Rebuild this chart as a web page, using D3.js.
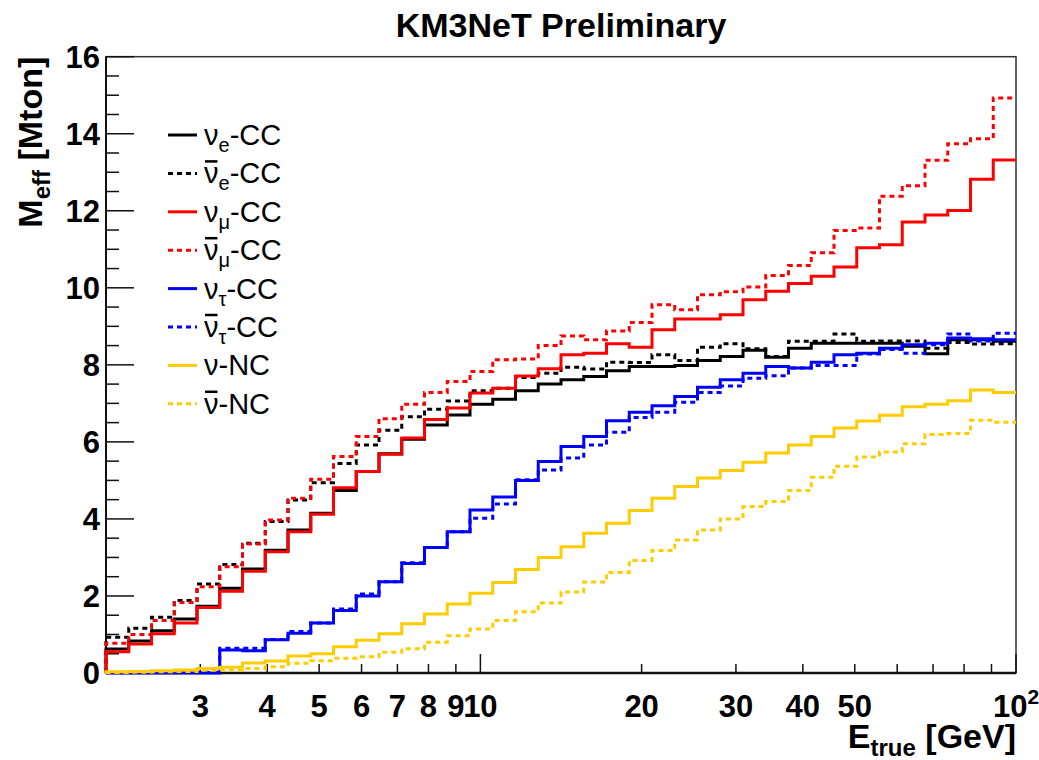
<!DOCTYPE html>
<html>
<head>
<meta charset="utf-8">
<script src="https://cdn.jsdelivr.net/npm/d3@7"></script>
<style>
  body { margin: 0; background: #fff; }
  text { font-family: "Liberation Sans", Arial, Helvetica, sans-serif; }
</style>
</head>
<body>
<div id="chart"></div>
<script>
// Histogram binning: 40 log bins from 2 to 100 GeV
const eMin = 2, eMax = 100, nBins = 40;

// Effective mass per bin [Mton]
const nueCC = [0.62, 0.83, 1.10, 1.40, 1.73, 2.20, 2.70, 3.19, 3.71, 4.15, 4.74, 5.23, 5.69, 6.07, 6.44, 6.70, 6.98, 7.11, 7.33, 7.50,
  7.61, 7.70, 7.85, 7.96, 7.96, 7.98, 8.11, 8.22, 8.38, 8.20, 8.43, 8.56, 8.56, 8.56, 8.56, 8.48, 8.29, 8.65, 8.65, 8.61];
const anueCC = [0.93, 1.16, 1.45, 1.88, 2.31, 2.82, 3.37, 3.93, 4.49, 4.94, 5.44, 5.92, 6.30, 6.65, 6.85, 7.06, 7.33, 7.39, 7.67, 7.78,
  7.94, 7.89, 8.07, 8.06, 8.26, 8.11, 8.46, 8.55, 8.42, 8.22, 8.61, 8.61, 8.80, 8.61, 8.62, 8.62, 8.43, 8.58, 8.54, 8.55];
const numuCC = [0.55, 0.75, 1.02, 1.30, 1.70, 2.12, 2.64, 3.15, 3.67, 4.12, 4.81, 5.23, 5.68, 6.10, 6.58, 6.88, 7.27, 7.39, 7.71, 7.90,
  8.26, 8.30, 8.55, 8.46, 8.91, 9.19, 9.19, 9.30, 9.69, 9.91, 10.11, 10.30, 10.54, 11.04, 11.12, 11.71, 11.89, 12.01, 12.82, 13.32];
const anumuCC = [0.77, 1.00, 1.36, 1.83, 2.24, 2.76, 3.35, 3.97, 4.54, 5.03, 5.62, 6.14, 6.60, 6.98, 7.28, 7.57, 7.83, 8.13, 8.15, 8.50,
  8.75, 8.65, 8.88, 9.10, 9.56, 9.43, 9.82, 9.90, 10.02, 10.32, 10.58, 10.91, 11.49, 11.55, 12.38, 12.65, 13.31, 13.74, 13.87, 14.93];
const nutauCC = [0.0, 0.0, 0.0, 0.0, 0.0, 0.60, 0.58, 0.86, 1.03, 1.30, 1.62, 2.00, 2.37, 2.84, 3.26, 3.67, 4.23, 4.57, 5.00, 5.49,
  5.88, 6.14, 6.55, 6.77, 6.94, 7.18, 7.42, 7.61, 7.78, 7.96, 7.92, 8.07, 8.26, 8.30, 8.43, 8.52, 8.56, 8.70, 8.68, 8.65];
const anutauCC = [0.01, 0.01, 0.02, 0.02, 0.02, 0.64, 0.64, 0.87, 1.08, 1.30, 1.66, 2.05, 2.37, 2.86, 3.26, 3.67, 4.02, 4.39, 5.02, 5.27,
  5.58, 5.92, 6.25, 6.63, 6.77, 7.03, 7.28, 7.45, 7.65, 7.72, 7.92, 7.98, 7.98, 8.28, 8.40, 8.30, 8.52, 8.80, 8.62, 8.82];
const nuNC = [0.03, 0.04, 0.06, 0.08, 0.12, 0.15, 0.26, 0.31, 0.44, 0.50, 0.68, 0.85, 1.02, 1.28, 1.53, 1.79, 2.07, 2.35, 2.69, 3.00,
  3.28, 3.63, 3.89, 4.22, 4.54, 4.84, 5.06, 5.26, 5.47, 5.71, 5.92, 6.14, 6.36, 6.54, 6.69, 6.91, 6.98, 7.07, 7.35, 7.28];
const anuNC = [0.01, 0.02, 0.03, 0.04, 0.07, 0.08, 0.12, 0.16, 0.25, 0.32, 0.38, 0.42, 0.54, 0.63, 0.80, 0.97, 1.14, 1.36, 1.59, 1.82,
  2.10, 2.36, 2.61, 2.92, 3.18, 3.45, 3.71, 4.00, 4.32, 4.45, 4.74, 5.08, 5.37, 5.61, 5.74, 5.95, 6.19, 6.22, 6.56, 6.51];

// x tick labels (log axis)
const xLabelTicks = [3, 4, 5, 6, 7, 8, 9, 10, 20, 30, 40, 50];
const xMinorTicks = [3, 4, 5, 6, 7, 8, 9, 20, 30, 40, 50, 60, 70, 80, 90];
const xMajorTicks = [10, 100];
const yLabelTicks = [0, 2, 4, 6, 8, 10, 12, 14, 16];

const series = [
  { values: nueCC,    color: "#000000", dashed: false, sub: "e", rest: "-CC", anti: false },
  { values: anueCC,   color: "#000000", dashed: true,  sub: "e", rest: "-CC", anti: true },
  { values: numuCC,   color: "#ff0000", dashed: false, sub: "μ", rest: "-CC", anti: false },
  { values: anumuCC,  color: "#ff0000", dashed: true,  sub: "μ", rest: "-CC", anti: true },
  { values: nutauCC,  color: "#0000ff", dashed: false, sub: "τ", rest: "-CC", anti: false },
  { values: anutauCC, color: "#0000ff", dashed: true,  sub: "τ", rest: "-CC", anti: true },
  { values: nuNC,     color: "#ffcc00", dashed: false, sub: "",  rest: "-NC", anti: false },
  { values: anuNC,    color: "#ffcc00", dashed: true,  sub: "",  rest: "-NC", anti: true }
];

const width = 1039, height = 760;
const padL = 106, padR = 1016, padT = 56.7, padB = 673;

const svg = d3.select("#chart").append("svg")
  .attr("width", width)
  .attr("height", height);

const x = d3.scaleLog().domain([eMin, eMax]).range([padL, padR]);
const y = d3.scaleLinear().domain([0, 16]).range([padB, padT]);

// bin edges of the histograms
const edges = d3.range(nBins + 1).map(i => eMin * Math.pow(eMax / eMin, i / nBins));

// Title
svg.append("text")
  .attr("x", 561).attr("y", 37)
  .attr("text-anchor", "middle")
  .style("font-size", "34px").style("font-weight", "bold")
  .text("KM3NeT Preliminary");

// Frame
svg.append("rect")
  .attr("x", padL).attr("y", padT)
  .attr("width", padR - padL).attr("height", padB - padT)
  .attr("fill", "none").attr("stroke", "#333").attr("stroke-width", 1.5);

// y axis ticks (inside)
const yAxis = svg.append("g");
const yMinor = d3.range(0, 16.01, 0.5);
yAxis.selectAll("line")
  .data(yMinor)
  .join("line")
  .attr("x1", padL)
  .attr("x2", d => d % 2 === 0 ? padL + 28 : padL + 13)
  .attr("y1", d => y(d)).attr("y2", d => y(d))
  .attr("stroke", "#111").attr("stroke-width", 1.5);
yAxis.append("line")
  .attr("x1", padL).attr("x2", padL).attr("y1", padT).attr("y2", padB)
  .attr("stroke", "#111").attr("stroke-width", 2);
yAxis.selectAll("text")
  .data(yLabelTicks)
  .join("text")
  .attr("x", 100)
  .attr("y", d => y(d) + 11)
  .attr("text-anchor", "end")
  .style("font-size", "31px").style("font-weight", "bold")
  .text(d => d);

// x axis ticks (inside, pointing up)
const xAxis = svg.append("g");
xAxis.selectAll("line.minor")
  .data(xMinorTicks)
  .join("line").attr("class", "minor")
  .attr("x1", d => x(d)).attr("x2", d => x(d))
  .attr("y1", padB).attr("y2", padB - 9)
  .attr("stroke", "#111").attr("stroke-width", 1.5);
xAxis.selectAll("line.major")
  .data(xMajorTicks)
  .join("line").attr("class", "major")
  .attr("x1", d => x(d)).attr("x2", d => x(d))
  .attr("y1", padB).attr("y2", padB - 19)
  .attr("stroke", "#111").attr("stroke-width", 1.5);
xAxis.append("line")
  .attr("x1", padL).attr("x2", padR).attr("y1", padB).attr("y2", padB)
  .attr("stroke", "#111").attr("stroke-width", 2.5);
xAxis.selectAll("text.lab")
  .data(xLabelTicks)
  .join("text").attr("class", "lab")
  .attr("x", d => x(d))
  .attr("y", 717)
  .attr("text-anchor", "middle")
  .style("font-size", "31px").style("font-weight", "bold")
  .text(d => d);
const t100 = xAxis.append("text")
  .attr("x", x(100)).attr("y", 717)
  .attr("text-anchor", "middle")
  .style("font-size", "31px").style("font-weight", "bold");
t100.append("tspan").text("10");
t100.append("tspan").attr("dy", -13).style("font-size", "21px").text("2");

// axis titles
const xt = svg.append("text")
  .attr("x", padR).attr("y", 748)
  .attr("text-anchor", "end")
  .style("font-size", "34px").style("font-weight", "bold");
xt.append("tspan").text("E");
xt.append("tspan").attr("dy", 8).style("font-size", "24px").text("true");
xt.append("tspan").attr("dy", -8).text(" [GeV]");

const yt = svg.append("text")
  .attr("transform", "translate(42," + padT + ") rotate(-90)")
  .attr("text-anchor", "end")
  .style("font-size", "34px").style("font-weight", "bold");
yt.append("tspan").text("M");
yt.append("tspan").attr("dy", 8).style("font-size", "24px").text("eff");
yt.append("tspan").attr("dy", -8).text(" [Mton]");

// Histograms as step lines
const line = d3.line()
  .x(d => x(d[0]))
  .y(d => y(d[1]))
  .curve(d3.curveStepAfter);

const histG = svg.append("g");
series.forEach(s => {
  const pts = [[edges[0], 0]];
  s.values.forEach((v, i) => pts.push([edges[i], v]));
  pts.push([edges[nBins], s.values[nBins - 1]]);
  histG.append("path")
    .attr("d", line(pts))
    .attr("fill", "none")
    .attr("stroke", s.color)
    .attr("stroke-width", 3)
    .attr("stroke-dasharray", s.dashed ? "5,4" : null);
});

// Legend
const leg = svg.append("g");
series.forEach((s, i) => {
  const cy = 135 + i * 38.4;
  leg.append("line")
    .attr("x1", 168).attr("x2", 197)
    .attr("y1", cy).attr("y2", cy)
    .attr("stroke", s.color).attr("stroke-width", 3)
    .attr("stroke-dasharray", s.dashed ? "5,4" : null);
  const t = leg.append("text")
    .attr("x", 204).attr("y", cy + 10)
    .style("font-size", "29px");
  t.append("tspan").text("ν");
  if (s.sub) {
    t.append("tspan").attr("dy", 7).style("font-size", "20px").text(s.sub);
    t.append("tspan").attr("dy", -7).text(s.rest);
  } else {
    t.append("tspan").text(s.rest);
  }
  if (s.anti) {
    const node = t.node();
    const x0 = node.getStartPositionOfChar(0).x;
    const x1 = node.getEndPositionOfChar(0).x;
    leg.append("line")
      .attr("x1", x0 + 1).attr("x2", x1 - 1)
      .attr("y1", cy - 12).attr("y2", cy - 12)
      .attr("stroke", "#000").attr("stroke-width", 2.5);
  }
});
</script>
</body>
</html>
